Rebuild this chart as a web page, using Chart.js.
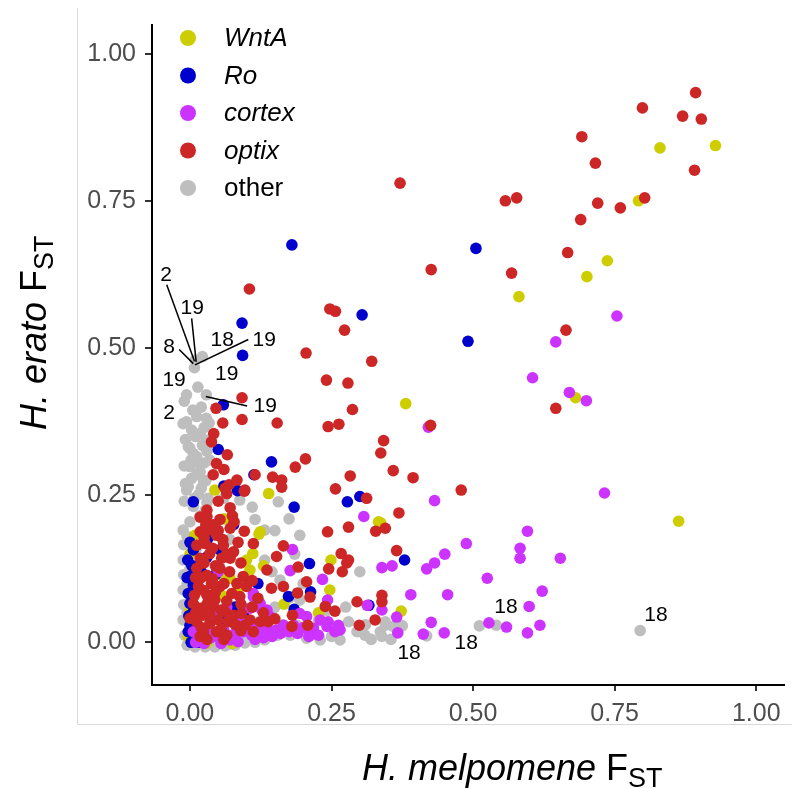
<!DOCTYPE html>
<html>
<head>
<meta charset="utf-8">
<script src="https://cdn.jsdelivr.net/npm/chart.js@4.4.1/dist/chart.umd.min.js"></script>
<style>
html,body{margin:0;padding:0;background:#fff;}
canvas{display:block;}
</style>
</head>
<body>
<canvas id="c" width="792" height="789"></canvas>
<script>
// ---------- DATA ----------
const xTicks = [0, 0.25, 0.5, 0.75, 1.0];
const yTicks = [0, 0.25, 0.5, 0.75, 1.0];

const otherX = [0.008,0.022,0.009,0.014,-0.006,0.029,-0.006,0.012,0.029,0.034,0.003,-0.003,0.012,0.000,0.018,0.003,0.024,-0.006,0.015,0.032,0.006,0.027,0.035,0.029,0.018,0.006,0.018,-0.012,0.000,-0.003,0.015,
 -0.012,-0.011,-0.012,-0.011,-0.012,-0.011,-0.012,-0.009,-0.005,0.009,0.027,0.044,0.062,0.080,0.097,0.115,0.132,0.018,0.115,0.132,
 0.156,0.088,0.194,0.300,0.280,0.295,0.336,0.345,0.206,0.239,0.359,0.242,0.227,0.189,0.144,0.511,0.541,0.418,0.795,0.345,0.339,
 0.132,0.159,0.194,0.115,0.141,0.177,0.230,0.265,0.309,
 -0.010,0.020,0.005,0.025,0.010,-0.008,0.022,0.030,0.002,0.025,-0.010,0.012,0.028,-0.008,0.020,0.008,0.030,-0.010,0.018,0.000,0.030,-0.005,0.012,0.000,-0.005,0.002,-0.005,0.000,0.005,
 0.040,0.070,0.100,0.125,0.155,0.165,0.150,0.175,0.200,0.185,0.150,0.175,0.110,0.060,0.045,0.070,0.145,0.215,0.250,0.275,0.310,0.320,0.355,0.375];
const otherY = [0.467,0.486,0.480,0.434,0.421,0.421,0.375,0.384,0.381,0.373,0.361,0.333,0.316,0.299,0.290,0.279,0.273,0.259,0.251,0.245,0.231,0.225,0.310,0.344,0.355,0.321,0.304,0.372,0.330,0.265,0.287,
 0.191,0.166,0.140,0.115,0.089,0.064,0.038,0.012,-0.005,-0.008,-0.008,-0.008,-0.006,-0.005,-0.001,0.000,0.004,0.174,0.209,0.191,
 0.239,0.242,0.182,0.120,0.035,0.018,0.018,0.029,0.007,0.058,0.027,0.054,0.038,0.029,0.049,0.028,0.029,0.011,0.020,0.035,0.010,
 0.140,0.106,0.072,0.072,0.021,0.012,0.004,0.004,0.012,
 0.410,0.400,0.395,0.365,0.350,0.345,0.335,0.325,0.310,0.305,0.300,0.285,0.275,0.270,0.262,0.245,0.238,0.240,0.215,0.205,0.200,0.180,0.160,0.125,0.100,0.075,0.050,0.025,0.000,
 -0.004,-0.003,0.005,0.010,0.012,0.030,0.060,0.075,0.100,0.150,0.190,0.210,0.230,0.245,0.200,0.175,0.120,0.015,0.010,0.060,0.030,0.005,0.005,0.028];

const wntaX = [0.830,0.928,0.792,0.737,0.701,0.581,0.681,0.381,0.863,0.337,0.373,0.139,0.122,0.111,0.333,0.249,0.247,0.106,0.103,0.166,0.227,0.044,
 0.009,0.059,0.071,0.056,0.124,0.000,0.030,
 0.000,0.025,0.085,0.040,0.100,0.130,0.060,-0.003,0.075];
const wntaY = [0.841,0.845,0.751,0.649,0.622,0.588,0.416,0.406,0.206,0.203,0.053,0.253,0.184,0.151,0.205,0.140,0.089,0.123,0.112,0.065,0.050,0.259,
 0.182,0.114,0.109,0.080,0.188,0.055,-0.001,
 0.150,0.000,0.090,0.100,0.140,0.130,0.210,0.010,-0.002];

const roX = [0.180,0.505,0.304,0.092,0.093,0.491,0.379,0.059,0.050,0.144,0.006,0.084,0.060,0.113,0.184,0.278,0.300,0.211,0.174,0.213,0.316,0.184,
 -0.003,0.000,0.006,0.003,0.006,-0.003,0.000,0.032,0.053,0.077,0.118,0.077,0.006,0.003,
 -0.005,-0.004,-0.002,0.002,0.015,0.000,0.020,0.030,0.045,0.060,0.080,0.095,0.120];
const roY = [0.676,0.670,0.557,0.543,0.488,0.512,0.140,0.404,0.328,0.307,0.239,0.258,0.266,0.285,0.230,0.239,0.248,0.134,0.078,0.086,0.063,0.056,
 0.083,0.066,0.097,0.131,0.157,0.018,0.029,0.177,0.157,0.200,0.066,0.055,0.052,0.114,
 0.110,0.140,0.045,0.000,0.000,0.170,0.120,0.145,0.115,0.040,0.060,0.050,0.100];

const cortexX = [0.754,0.646,0.605,0.670,0.700,0.421,0.432,0.732,0.488,0.450,0.432,0.418,0.357,0.339,0.596,0.583,0.583,0.654,0.525,0.390,0.455,0.622,0.599,0.618,0.596,0.559,0.528,0.426,0.449,0.412,0.367,0.365,0.339,
 0.307,0.181,0.177,0.234,0.243,0.313,0.194,0.206,0.230,0.242,0.256,0.265,0.218,0.152,0.165,0.136,0.124,0.112,0.244,0.227,0.262,0.183,
 0.006,0.018,0.035,0.053,0.071,0.085,0.080,0.094,0.109,0.124,0.138,0.153,0.112,0.127,0.133,0.165,0.106,0.044,0.050,0.071,0.118,0.088,
 0.030,0.045,0.060,0.075,0.100,0.115,0.130,0.145,0.160,0.175,0.190,0.200,0.010,0.025,0.055,0.090,0.065,0.140,0.210];
const cortexY = [0.555,0.511,0.450,0.425,0.411,0.366,0.241,0.254,0.168,0.150,0.135,0.125,0.130,0.127,0.189,0.160,0.143,0.143,0.109,0.081,0.081,0.087,0.061,0.029,0.016,0.026,0.033,0.034,0.016,0.014,0.016,0.043,0.055,
 0.214,0.158,0.122,0.107,0.072,0.063,0.049,0.044,0.038,0.027,0.018,0.021,0.024,0.020,0.027,0.055,0.066,0.083,0.035,0.012,0.029,0.029,
 0.018,0.004,0.007,0.007,0.004,0.001,0.015,0.018,0.012,0.018,0.021,0.021,0.078,0.055,0.035,0.029,0.058,0.046,0.120,0.044,0.029,0.035,
 0.018,0.010,0.020,0.012,0.025,0.005,0.008,0.010,0.015,0.018,0.015,0.025,0.000,-0.002,-0.002,0.045,0.060,0.045,0.010];

const optixX = [0.893,0.799,0.870,0.903,0.692,0.716,0.891,0.371,0.557,0.577,0.720,0.760,0.803,0.690,0.667,0.426,0.568,0.664,0.646,0.425,0.342,0.337,0.359,0.394,0.479,0.369,0.345,0.365,0.339,0.339,
 0.247,0.257,0.273,0.205,0.321,0.241,0.279,0.105,0.092,
 0.092,0.046,0.154,0.058,0.042,0.038,0.066,0.287,0.244,0.263,0.204,0.186,0.283,0.115,0.146,0.162,0.162,0.083,0.062,0.096,0.257,0.312,0.071,0.018,0.030,0.053,0.078,0.280,0.243,0.328,0.096,
 0.059,0.112,0.165,0.153,0.267,0.277,0.245,0.269,0.136,0.191,0.206,0.144,0.165,0.190,0.212,0.295,0.239,0.256,0.327,0.299,0.181,0.180,0.208,0.280,
 0.047,0.060,0.041,0.069,0.065,0.097,0.041,
 0.018,0.032,0.047,0.071,0.012,0.027,0.035,0.018,0.056,0.071,0.077,0.053,0.012,0.030,0.094,0.100,0.083,0.053,0.015,0.030,0.074,0.088,0.006,0.041,0.024,0.062,0.077,0.012,0.035,0.050,0.091,0.106,0.124,0.138,0.112,0.024,0.047,0.018,0.065,0.000,0.018,0.038,0.044,0.068,0.097,
 0.025,0.058,0.085,0.040,0.065,0.090,0.025,0.045,0.070,0.020,0.040,0.060,0.110,0.025,0.045,0.065,0.090,0.110,0.030,0.055,0.010,0.035,0.080,0.020,0.055,0.090,0.030,0.060,0.008,0.010,0.030,0.050,0.075,0.050,0.028,0.120,0.130,0.150];
const optixY = [0.935,0.909,0.895,0.890,0.860,0.815,0.803,0.781,0.751,0.756,0.747,0.739,0.756,0.719,0.663,0.634,0.628,0.531,0.398,0.369,0.343,0.322,0.292,0.280,0.259,0.220,0.194,0.156,0.080,0.069,
 0.567,0.563,0.531,0.492,0.478,0.446,0.441,0.601,0.416,
 0.379,0.398,0.373,0.373,0.355,0.341,0.319,0.396,0.367,0.371,0.312,0.298,0.283,0.285,0.281,0.276,0.264,0.276,0.262,0.257,0.261,0.245,0.229,0.213,0.214,0.209,0.205,0.196,0.188,0.189,0.189,
 0.165,0.168,0.164,0.146,0.151,0.135,0.125,0.120,0.123,0.128,0.103,0.092,0.095,0.084,0.077,0.069,0.061,0.053,0.038,0.029,0.046,0.027,0.029,0.140,
 0.304,0.294,0.285,0.268,0.253,0.259,0.200,
 0.188,0.191,0.182,0.194,0.165,0.168,0.151,0.143,0.143,0.143,0.154,0.126,0.126,0.114,0.112,0.095,0.100,0.095,0.095,0.080,0.083,0.078,0.066,0.063,0.046,0.052,0.046,0.035,0.032,0.038,0.049,0.038,0.035,0.035,0.018,0.018,0.018,0.010,0.012,0.041,0.058,0.100,0.072,0.035,0.029,
 0.178,0.175,0.170,0.160,0.150,0.135,0.135,0.130,0.120,0.110,0.108,0.100,0.105,0.088,0.085,0.070,0.065,0.060,0.065,0.055,0.050,0.050,0.030,0.025,0.022,0.020,0.005,0.005,0.080,0.110,0.225,0.240,0.215,0.190,0.200,0.075,0.050,0.040];

// text annotations (chromosome numbers) in data units
const annText = ["2","19","8","18","19","19","19","2","19","18","18","18","18"];
const annX = [-0.042,0.004,-0.037,0.057,0.131,-0.028,0.065,-0.037,0.133,0.387,0.488,0.558,0.823];
const annY = [0.625,0.569,0.502,0.514,0.514,0.446,0.456,0.390,0.402,-0.019,-0.001,0.060,0.046];
// leader segments in data units
const segX1 = [-0.041,0.003,-0.019,0.009,0.028];
const segY1 = [0.608,0.551,0.498,0.472,0.418];
const segX2 = [0.008,0.011,0.006,0.103,0.101];
const segY2 = [0.478,0.477,0.474,0.515,0.402];

const groups = ["WntA","Ro","cortex","optix","other"];
const groupColors = ["#CDCD00","#0000CD","#CC33FF","#CD2626","#BEBEBE"];

// ---------- CHART ----------
const FONT = "'Liberation Sans', Arial, sans-serif";
const toPts = (xs, ys) => xs.map((x, i) => ({x: x, y: ys[i]}));

const seriesX = [wntaX, roX, cortexX, optixX, otherX];
const seriesY = [wntaY, roY, cortexY, optixY, otherY];
const orderOf = [4, 3, 2, 1, 5];

const datasets = groups.map((g, i) => ({
  label: g,
  data: toPts(seriesX[i], seriesY[i]),
  backgroundColor: groupColors[i],
  borderColor: groupColors[i],
  borderWidth: 0,
  pointRadius: 5.8,
  pointHoverRadius: 5.8,
  order: orderOf[i]
}));

function drawRich(ctx, parts, x, y) {
  let cx = x;
  parts.forEach(p => {
    ctx.font = p.font;
    ctx.fillText(p.t, cx, y + (p.dy || 0));
    cx += ctx.measureText(p.t).width;
  });
}

const decor = {
  id: 'decor',
  beforeDraw(chart) {
    const ctx = chart.ctx;
    ctx.save();
    ctx.fillStyle = '#fff';
    ctx.fillRect(0, 0, chart.width, chart.height);
    ctx.strokeStyle = '#d9d9d9';
    ctx.lineWidth = 1;
    ctx.beginPath();
    ctx.moveTo(77.5, 8);
    ctx.lineTo(77.5, 724.5);
    ctx.lineTo(792, 724.5);
    ctx.stroke();
    ctx.restore();
  },
  afterDraw(chart) {
    const ctx = chart.ctx;
    const xs = chart.scales.x, ys = chart.scales.y;
    ctx.save();
    ctx.strokeStyle = '#000';
    ctx.lineWidth = 1.5;
    segX1.forEach((v, i) => {
      ctx.beginPath();
      ctx.moveTo(xs.getPixelForValue(segX1[i]), ys.getPixelForValue(segY1[i]));
      ctx.lineTo(xs.getPixelForValue(segX2[i]), ys.getPixelForValue(segY2[i]));
      ctx.stroke();
    });
    ctx.fillStyle = '#000';
    ctx.font = "21px " + FONT;
    ctx.textAlign = 'center';
    ctx.textBaseline = 'middle';
    annText.forEach((t, i) => {
      ctx.fillText(t, xs.getPixelForValue(annX[i]), ys.getPixelForValue(annY[i]));
    });
    const legY0 = 38, legStep = 37.5;
    groups.forEach((g, i) => {
      const yy = legY0 + i * legStep;
      ctx.fillStyle = groupColors[i];
      ctx.beginPath();
      ctx.arc(188, yy, 8, 0, Math.PI * 2);
      ctx.fill();
      ctx.fillStyle = '#000';
      ctx.textAlign = 'left';
      ctx.textBaseline = 'middle';
      ctx.font = (g === 'other' ? '' : 'italic ') + "26px " + FONT;
      ctx.fillText(g, 224, yy + 1);
    });
    ctx.fillStyle = '#000';
    ctx.textAlign = 'left';
    ctx.textBaseline = 'alphabetic';
    const tf = 36;
    drawRich(ctx, [
      {t: 'H. melpomene ', font: 'italic ' + tf + 'px ' + FONT},
      {t: 'F', font: tf + 'px ' + FONT},
      {t: 'ST', font: Math.round(tf * 0.75) + 'px ' + FONT, dy: 7}
    ], 362, 780);
    ctx.translate(46, 430);
    ctx.rotate(-Math.PI / 2);
    drawRich(ctx, [
      {t: 'H. erato ', font: 'italic ' + tf + 'px ' + FONT},
      {t: 'F', font: tf + 'px ' + FONT},
      {t: 'ST', font: Math.round(tf * 0.75) + 'px ' + FONT, dy: 7}
    ], 0, 0);
    ctx.restore();
  }
};

new Chart(document.getElementById('c'), {
  type: 'scatter',
  data: { datasets: datasets },
  options: {
    responsive: false,
    devicePixelRatio: 1,
    animation: false,
    events: [],
    layout: { padding: { top: 25, right: 8, left: 0, bottom: 0 } },
    plugins: { legend: { display: false }, tooltip: { enabled: false } },
    scales: {
      x: {
        type: 'linear',
        min: -0.067, max: 1.049,
        afterBuildTicks: s => { s.ticks = xTicks.map(v => ({value: v})); },
        afterFit: s => { s.height = 104; },
        ticks: {
          callback: v => Number(v).toFixed(2),
          color: '#4D4D4D',
          font: { family: FONT, size: 25 },
          padding: 8,
          maxRotation: 0,
          autoSkip: false
        },
        grid: { display: true, drawOnChartArea: false, drawTicks: true, tickLength: 6, color: '#333333', lineWidth: 2 },
        border: { display: true, color: '#000', width: 2 }
      },
      y: {
        type: 'linear',
        min: -0.0726, max: 1.050,
        afterBuildTicks: s => { s.ticks = yTicks.map(v => ({value: v})); },
        afterFit: s => { s.width = 152; },
        ticks: {
          callback: v => Number(v).toFixed(2),
          color: '#4D4D4D',
          font: { family: FONT, size: 25 },
          padding: 9,
          autoSkip: false
        },
        grid: { display: true, drawOnChartArea: false, drawTicks: true, tickLength: 7, color: '#333333', lineWidth: 2 },
        border: { display: true, color: '#000', width: 2 }
      }
    }
  },
  plugins: [decor]
});
</script>
</body>
</html>
